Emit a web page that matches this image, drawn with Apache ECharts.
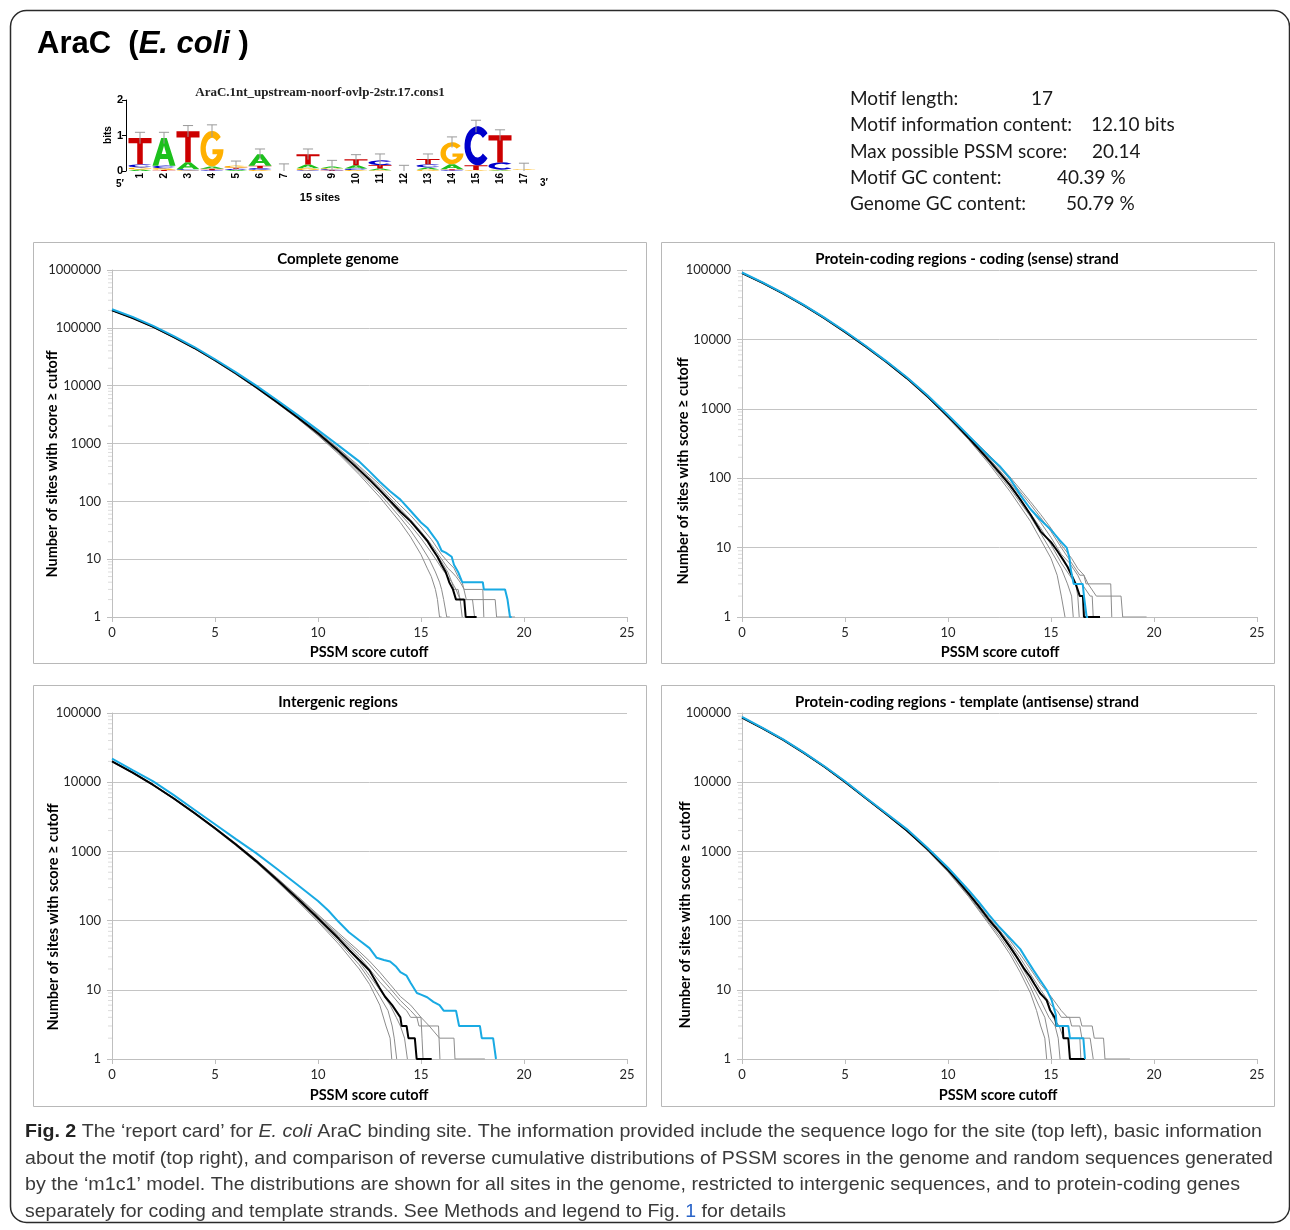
<!DOCTYPE html>
<html><head><meta charset="utf-8">
<script src="https://cdn.jsdelivr.net/npm/echarts@6/dist/echarts.min.js"></script>
<style>html,body{margin:0;padding:0;background:#fff;}#c{width:1290px;height:1230px;}</style>
</head><body><div id="c"></div>
<script>
// ---------------- DATA ----------------
// Sequence logo (bits per letter at each motif position)
const logoPositions = ['1','2','3','4','5','6','7','8','9','10','11','12','13','14','15','16','17'];
const logoA = [0.04,0.78,0.20,0.07,0.03,0.32,0.01,0.10,0.05,0.09,0.05,0.01,0.06,0.14,0.01,0.02,0.01];
const logoC = [0.09,0.07,0.03,0.02,0.03,0.05,0.01,0.02,0.03,0.04,0.13,0.01,0.09,0.02,1.10,0.20,0.01];
const logoG = [0.06,0.05,0.02,1.00,0.06,0.03,0.01,0.06,0.03,0.03,0.02,0.01,0.04,0.62,0.02,0.02,0.02];
const logoT = [0.74,0.03,0.87,0.04,0.03,0.07,0.01,0.29,0.02,0.17,0.10,0.01,0.15,0.03,0.13,0.77,0.01];
const logoErrTop = [1.09,1.09,1.28,1.30,0.28,0.62,0.20,0.62,0.30,0.46,0.48,0.16,0.48,0.96,1.43,1.16,0.22];

const xTicks = [0,5,10,15,20,25];

// Complete genome: [PSSM score cutoff, number of sites >= cutoff]
const cgBlue = [[0,210000],[1,155000],[2,108000],[3,72000],[4,46600],[5,28600],[6,17200],[7,10000],[8,5650],[9,3130],[10,1700],[11,920],[12,490],[12.5,330],[13,218],[13.5,150],[14,107],[14.5,68],[15,43],[15.3,35],[15.5,28],[15.8,20],[16,14],[16.2,13],[16.49,11],[16.6,8],[16.8,6],[17.0,4],[18.0,4],[18.05,3],[19.08,3],[19.2,2],[19.32,1],[19.4,1]];
const cgBlack = [[0,200000],[1,148000],[2,104000],[3,69300],[4,44800],[5,27500],[6,16400],[7,9440],[8,5250],[9,2850],[10,1500],[11,740],[12,350],[12.5,237],[13,156],[13.5,102],[14,66],[14.5,45],[15,28],[15.3,21],[15.5,16],[15.8,11],[16,8],[16.2,6],[16.37,4],[16.55,3],[16.7,2],[17.1,2],[17.17,1],[17.7,1]];
const cgRandom1 = [[0,199000],[1,146500],[2,102400],[3,67900],[4,43700],[5,26700],[6,15800],[7,9060],[8,5010],[9,2710],[10,1380],[11,660],[12,290],[13,118],[14,43],[14.5,24],[15,12],[15.3,7],[15.5,5],[15.7,3],[15.8,2],[15.9,1],[16.0,1]];
const cgRandom2 = [[0,199400],[1,147300],[2,103300],[3,68600],[4,44300],[5,27100],[6,16100],[7,9250],[8,5130],[9,2760],[10,1420],[11,690],[12,315],[13,135],[14,52],[14.5,31],[15,17],[15.4,10],[15.7,6],[15.9,4],[16.0,3],[16.1,2],[16.25,1],[16.4,1]];
const cgRandom3 = [[0,200500],[1,148500],[2,104300],[3,69500],[4,44900],[5,27600],[6,16450],[7,9470],[8,5270],[9,2870],[10,1510],[11,750],[12,345],[13,150],[14,60],[14.5,38],[15,23],[15.5,13],[15.8,9],[16.0,7],[16.3,5],[16.5,4],[16.6,3],[16.8,3],[16.9,2],[17.0,1]];
const cgRandom4 = [[0,201000],[1,149000],[2,104700],[3,69900],[4,45300],[5,27900],[6,16700],[7,9650],[8,5400],[9,2940],[10,1560],[11,790],[12,380],[13,175],[14,74],[14.5,48],[15,30],[15.5,18],[16,10],[16.3,7],[16.5,6],[16.7,5],[16.9,4],[17.1,3],[18.0,3],[18.05,1]];
const cgRandom5 = [[0,202000],[1,149500],[2,105300],[3,70300],[4,45600],[5,28100],[6,16900],[7,9800],[8,5500],[9,3010],[10,1600],[11,820],[12,405],[13,195],[14,85],[14.5,57],[15,36],[15.5,22],[16,12],[16.3,9],[16.6,7],[16.8,5],[17.0,4],[17.2,2],[18.6,2],[18.67,1],[19.56,1]];
const cgRandom6 = [[0,200000],[1,148000],[2,104000],[3,69300],[4,44800],[5,27500],[6,16400],[7,9440],[8,5250],[9,2860],[10,1490],[11,730],[12,340],[13,160],[14,68],[14.5,44],[15,27],[15.5,16],[16,9],[16.3,6],[16.5,4],[16.7,3],[16.9,2],[17.5,2],[17.6,1]];

// Protein-coding regions, coding (sense) strand
const csBlue = [[0,92000],[1,66300],[2,46500],[3,31400],[4,20600],[5,13100],[6,8100],[7,4870],[8,2840],[9,1570],[10,815],[10.5,580],[11,410],[11.5,290],[12,205],[12.5,150],[13,100],[13.5,58],[14,36],[14.5,25],[15,18],[15.4,13],[15.76,10],[15.9,7],[15.95,5],[16.1,3],[16.54,3],[16.6,2],[16.73,1],[16.8,1]];
const csBlack = [[0,90000],[1,65200],[2,45700],[3,30900],[4,20200],[5,12800],[6,7900],[7,4760],[8,2770],[9,1520],[10,780],[10.5,550],[11,383],[11.5,262],[12,179],[12.5,120],[13,80],[13.5,50],[14,30],[14.5,17],[15,12],[15.3,9],[15.6,6.6],[15.8,5.3],[16.0,4],[16.2,3],[16.4,2],[16.55,2],[16.6,1],[17.38,1]];
const csRandom1 = [[0,89200],[1,64500],[2,45100],[3,30400],[4,19800],[5,12500],[6,7700],[7,4630],[8,2690],[9,1460],[10,735],[11,360],[12,160],[13,65],[14,24],[14.5,13],[15,7],[15.3,4],[15.5,2],[15.68,1]];
const csRandom2 = [[0,89500],[1,64800],[2,45400],[3,30600],[4,20000],[5,12650],[6,7800],[7,4690],[8,2730],[9,1480],[10,750],[11,370],[12,170],[13,72],[14,28],[14.5,16],[15,9],[15.5,5],[15.8,3],[16.0,2],[16.08,1]];
const csRandom3 = [[0,90000],[1,65200],[2,45700],[3,30900],[4,20200],[5,12800],[6,7900],[7,4760],[8,2770],[9,1510],[10,775],[11,385],[12,180],[13,78],[14,31],[14.5,19],[15,11],[15.5,6],[15.9,4],[16.2,3],[16.3,2],[16.37,1]];
const csRandom4 = [[0,90300],[1,65500],[2,45900],[3,31100],[4,20350],[5,12900],[6,7970],[7,4810],[8,2800],[9,1540],[10,790],[11,395],[12,192],[13,88],[14,36],[14.5,23],[15,14],[15.5,8],[15.9,6],[16.3,4],[16.5,3],[16.9,2],[17.0,2],[17.05,1]];
const csRandom5 = [[0,90700],[1,65800],[2,46200],[3,31300],[4,20500],[5,13000],[6,8050],[7,4860],[8,2830],[9,1560],[10,800],[11,405],[12,205],[13,97],[14,42],[14.5,27],[15,17],[15.5,10],[16,6],[16.4,4],[16.6,4],[16.7,3],[17.9,3],[17.95,1]];
const csRandom6 = [[0,91000],[1,66100],[2,46400],[3,31500],[4,20650],[5,13100],[6,8120],[7,4900],[8,2860],[9,1580],[10,815],[11,415],[12,215],[13,105],[14,46],[14.5,30],[15,19],[15.5,11],[16,7],[16.3,5],[16.6,4],[16.8,3],[17.2,2],[18.4,2],[18.48,1],[19.64,1]];

// Intergenic regions
const igBlue = [[0,21900],[1,15000],[2,10300],[3,6500],[4,4000],[5,2470],[6,1520],[7,944],[8,560],[9,330],[10,192],[10.5,140],[11,96],[11.5,68],[12,52],[12.5,40],[12.85,29],[13.2,27],[13.5,25.6],[13.8,21.5],[14.0,18],[14.3,16],[14.5,12.5],[14.8,9],[15.0,8.5],[15.3,7.8],[15.6,6.7],[15.9,6],[16.1,5],[16.7,5],[16.85,3],[17.86,3],[17.95,2],[18.5,2],[18.64,1]];
const igBlack = [[0,20000],[1,13800],[2,9120],[3,5820],[4,3590],[5,2160],[6,1270],[7,724],[8,394],[9,209],[10,108],[11,55],[11.5,38],[12,27],[12.5,19],[13,10.5],[13.25,8],[13.6,6],[14.0,4],[14.06,3],[14.3,3],[14.39,2],[14.7,2],[14.79,1],[15.52,1]];
const igRandom1 = [[0,19700],[1,13550],[2,8930],[3,5680],[4,3490],[5,2090],[6,1220],[7,690],[8,370],[9,192],[10,96],[11,46],[12,20],[12.5,12],[13,6],[13.3,3],[13.5,2],[13.58,1]];
const igRandom2 = [[0,19800],[1,13650],[2,9010],[3,5740],[4,3540],[5,2120],[6,1240],[7,705],[8,380],[9,199],[10,101],[11,50],[12,23],[12.5,14],[13,8],[13.4,5],[13.6,3],[13.7,2],[13.82,1]];
const igRandom3 = [[0,19900],[1,13720],[2,9060],[3,5780],[4,3565],[5,2140],[6,1255],[7,715],[8,388],[9,204],[10,105],[11,53],[12,25.5],[12.5,16],[13,10],[13.5,6],[13.8,4],[14,3],[14.2,2],[14.34,1]];
const igRandom4 = [[0,20100],[1,13870],[2,9170],[3,5860],[4,3620],[5,2180],[6,1285],[7,735],[8,402],[9,215],[10,113],[11,59],[12,30],[12.5,20],[13,13],[13.5,9],[14,6],[14.3,5],[14.5,4],[15.0,4],[15.05,2],[15.1,1]];
const igRandom5 = [[0,20200],[1,13950],[2,9230],[3,5900],[4,3650],[5,2200],[6,1300],[7,745],[8,410],[9,221],[10,117],[11,62],[12,33],[12.5,23],[13,15.5],[13.5,10.5],[14,7],[14.5,5],[14.8,4],[14.9,3],[15.85,3],[15.92,1]];
const igRandom6 = [[0,20300],[1,14000],[2,9280],[3,5940],[4,3680],[5,2220],[6,1315],[7,755],[8,418],[9,227],[10,122],[11,66],[12,36],[12.5,26],[13,18],[13.5,12],[14,8],[14.5,6],[15,4],[15.4,3],[15.9,2],[16.6,2],[16.65,1],[18.1,1]];

// Protein-coding regions, template (antisense) strand
const tsBlue = [[0,88000],[1,61000],[2,41500],[3,27000],[4,17000],[5,10300],[6,6000],[7,3560],[8,2100],[9,1130],[10,580],[10.5,400],[11,275],[11.5,185],[12,120],[12.5,80],[13,56],[13.5,39],[13.8,28],[14.14,19.4],[14.47,13.8],[14.79,10],[15.03,7.1],[15.24,4.3],[15.27,3],[15.84,3],[15.92,2],[16.57,2],[16.65,1]];
const tsBlack = [[0,86000],[1,60000],[2,41000],[3,26500],[4,16700],[5,10100],[6,5900],[7,3480],[8,2000],[9,1080],[10,540],[10.5,370],[11,245],[11.5,160],[12,102],[12.5,68],[13,42],[13.33,30],[13.7,20],[13.98,15.5],[14.2,12],[14.47,8.9],[14.79,7.1],[14.95,5.1],[15.2,3.9],[15.27,3],[15.57,3],[15.6,2],[15.84,2],[15.92,1],[16.65,1]];
const tsRandom1 = [[0,85000],[1,59300],[2,40500],[3,26150],[4,16450],[5,9930],[6,5790],[7,3400],[8,1950],[9,1030],[10,505],[11,222],[12,88],[12.5,55],[13,33],[13.5,18],[14,9],[14.3,5],[14.5,3],[14.7,2],[14.79,1]];
const tsRandom2 = [[0,85400],[1,59600],[2,40700],[3,26300],[4,16550],[5,10000],[6,5830],[7,3430],[8,1970],[9,1050],[10,515],[11,230],[12,93],[12.5,60],[13,37],[13.5,21],[14,11],[14.4,6],[14.7,4],[14.9,2],[15.03,1]];
const tsRandom3 = [[0,85800],[1,59850],[2,40900],[3,26430],[4,16650],[5,10060],[6,5870],[7,3460],[8,1985],[9,1068],[10,528],[11,238],[12,98],[12.5,66],[13,41],[13.5,24],[14,13],[14.5,7],[14.9,4],[15.2,3],[15.35,2],[15.44,1]];
const tsRandom4 = [[0,86300],[1,60250],[2,41200],[3,26650],[4,16800],[5,10170],[6,5950],[7,3515],[8,2025],[9,1100],[10,555],[11,255],[12,110],[12.5,73],[13,47],[13.5,29],[14,17],[14.5,10],[15,6],[15.3,5],[15.5,4],[15.9,4],[16.0,3],[16.4,3],[16.5,2],[16.9,2],[17.05,1]];
const tsRandom5 = [[0,86700],[1,60500],[2,41400],[3,26800],[4,16900],[5,10250],[6,6000],[7,3550],[8,2050],[9,1120],[10,570],[11,268],[12,118],[12.5,80],[13,52],[13.5,33],[14,20],[14.5,12],[15,8],[15.5,5],[15.8,4],[16.4,4],[16.5,3],[17.0,3],[17.1,2],[17.55,2],[17.62,1],[18.83,1]];
const tsRandom6 = [[0,86000],[1,60000],[2,41000],[3,26500],[4,16700],[5,10100],[6,5900],[7,3480],[8,2000],[9,1075],[10,532],[11,244],[12,104],[12.5,69],[13,44],[13.5,26],[14,15],[14.5,9],[14.9,6],[15.1,4],[15.4,3],[15.6,2],[16.4,2],[16.45,1]];

// Motif info (text)
const infoLabels = ['Motif length:','Motif information content:','Max possible PSSM score:','Motif GC content:','Genome GC content:'];
const infoValues = ['17','12.10 bits','20.14','40.39 %','50.79 %'];

// ---------------- LAYOUT ----------------
const FAM = 'Lato, "Open Sans", sans-serif';
const panels = [
  {title:'Complete genome', left:112, top:270, h:347, ymax:1e6, box:[33,242,613,421], tx:338, ty:259, ylx:52, yly:464, xlx:369, xly:652,
   blue:cgBlue, black:cgBlack, grays:[cgRandom1,cgRandom2,cgRandom3,cgRandom4,cgRandom5,cgRandom6]},
  {title:'Protein-coding regions - coding (sense) strand', left:742, top:270, h:347, ymax:1e5, box:[661,242,613,421], tx:967, ty:259, ylx:683, yly:471, xlx:1000, xly:652,
   blue:csBlue, black:csBlack, grays:[csRandom1,csRandom2,csRandom3,csRandom4,csRandom5,csRandom6]},
  {title:'Intergenic regions', left:112, top:713, h:346, ymax:1e5, box:[33,685,613,421], tx:338, ty:702, ylx:53, yly:917, xlx:369, xly:1095,
   blue:igBlue, black:igBlack, grays:[igRandom1,igRandom2,igRandom3,igRandom4,igRandom5,igRandom6]},
  {title:'Protein-coding regions - template (antisense) strand', left:742, top:713, h:346, ymax:1e5, box:[661,685,613,421], tx:967, ty:702, ylx:685, yly:915, xlx:998, xly:1095,
   blue:tsBlue, black:tsBlack, grays:[tsRandom1,tsRandom2,tsRandom3,tsRandom4,tsRandom5,tsRandom6]}
];

const GLYPH = {
  T:'M0,0 L100,0 L100,20 L62,20 L62,100 L38,100 L38,20 L0,20 Z',
  A:'M38,0 L62,0 L100,100 L75,100 L67,76 L33,76 L25,100 L0,100 Z M50,28 L40,58 L60,58 Z',
  C:'M88,18 A50,50 0 1 0 88,82 L70,70 A27,30 0 1 1 70,30 Z',
  G:'M88,18 A50,50 0 1 0 100,52 L52,52 L52,66 L73,66 A27,30 0 1 1 70,30 Z'
};
const LCOL = {A:'#1cc01c', C:'#0000cc', G:'#ffb000', T:'#cc0000'};

const grids=[], xAxes=[], yAxes=[], series=[], graphics=[];

// ---- logo grid (index 0)
grids.push({left:128, top:100, width:408, height:71});
xAxes.push({type:'category', gridIndex:0, data:logoPositions, boundaryGap:true,
  axisLine:{show:false}, axisTick:{show:false},
  axisLabel:{rotate:90, fontSize:10, fontWeight:'bold', color:'#000', fontFamily:'"Liberation Sans", Arial', margin:2}});
yAxes.push({type:'value', gridIndex:0, min:0, max:2, interval:1, offset:2,
  axisLine:{show:true, lineStyle:{color:'#000', width:1}}, axisTick:{show:true, length:4, lineStyle:{color:'#000'}},
  axisLabel:{fontSize:11, fontWeight:'bold', color:'#000', fontFamily:'"Liberation Sans", Arial', margin:3}, splitLine:{show:false}});
series.push({type:'custom', xAxisIndex:0, yAxisIndex:0, silent:true, animation:false,
  data: logoPositions.map((p,i)=>[i, logoA[i], logoC[i], logoG[i], logoT[i], logoErrTop[i]]),
  renderItem(params, api){
    const i = api.value(0);
    const hs = [['A',api.value(1)],['C',api.value(2)],['G',api.value(3)],['T',api.value(4)]].sort((a,b)=>a[1]-b[1]);
    const bw = api.size([1,0])[0]*0.96;
    let cum = 0; const ch = [];
    for (const [l,h] of hs){
      const p0 = api.coord([i,cum]), p1 = api.coord([i,cum+h]);
      cum += h;
      const hh = p0[1]-p1[1];
      if (hh < 0.4) continue;
      ch.push({type:'path', shape:{pathData:GLYPH[l], x:p0[0]-bw/2, y:p1[1], width:bw, height:hh, layout:'cover'}, style:{fill:LCOL[l]}});
    }
    const et = api.value(5);
    const lo = Math.max(0, 2*cum - et);
    const a = api.coord([i, et]), b = api.coord([i, lo]);
    const cw = bw*0.22;
    ch.push({type:'line', shape:{x1:a[0],y1:a[1],x2:b[0],y2:b[1]}, style:{stroke:'#9a9a9a', lineWidth:1}});
    ch.push({type:'line', shape:{x1:a[0]-cw,y1:a[1],x2:a[0]+cw,y2:a[1]}, style:{stroke:'#9a9a9a', lineWidth:1}});
    return {type:'group', children:ch};
  }});

// ---- four distribution panels
const minorSteps = [2,3,4,5,6,7,8,9];
panels.forEach((P, k)=>{
  const gi = k+1;
  grids.push({left:P.left, top:P.top, width:515, height:P.h});
  xAxes.push({type:'value', gridIndex:gi, min:0, max:25, interval:5,
    axisLine:{show:true, onZero:false, lineStyle:{color:'#bfbfbf', width:1}},
    axisTick:{show:true, length:5, lineStyle:{color:'#bfbfbf'}},
    axisLabel:{fontSize:13, color:'#262626', fontFamily:FAM, margin:9, customValues:xTicks},
    splitLine:{show:false}});
  yAxes.push({type:'log', logBase:10, gridIndex:gi, min:1, max:P.ymax, splitNumber:10,
    axisLine:{show:true, lineStyle:{color:'#bfbfbf', width:1}},
    axisTick:{show:true, length:5, lineStyle:{color:'#bfbfbf'}},
    axisLabel:{fontSize:13, color:'#262626', fontFamily:FAM, margin:11, formatter:v=>String(Math.round(v))},
    splitLine:{show:true, lineStyle:{color:'#c4c4c4', width:1}}});
  // minor log ticks on the y axis
  const decades = Math.round(Math.log10(P.ymax));
  const minors = [];
  for (let d=0; d<decades; d++) for (const m of minorSteps) minors.push(m*Math.pow(10,d));
  series.push({type:'custom', xAxisIndex:gi, yAxisIndex:gi, silent:true, animation:false, z:1,
    data: minors.map(v=>[0,v]),
    renderItem(params, api){
      const p = api.coord([0, api.value(1)]);
      return {type:'line', shape:{x1:p[0]-4, y1:p[1], x2:p[0], y2:p[1]}, style:{stroke:'#dcdcdc', lineWidth:1}};
    }});
  P.grays.forEach(g=>series.push({type:'line', xAxisIndex:gi, yAxisIndex:gi, data:g, showSymbol:false, symbol:'none',
    silent:true, animation:false, z:2, lineStyle:{color:'#8c8c8c', width:1}}));
  series.push({type:'line', xAxisIndex:gi, yAxisIndex:gi, data:P.black, showSymbol:false, symbol:'none',
    silent:true, animation:false, z:3, lineStyle:{color:'#000', width:2}});
  series.push({type:'line', xAxisIndex:gi, yAxisIndex:gi, data:P.blue, showSymbol:false, symbol:'none',
    silent:true, animation:false, z:4, lineStyle:{color:'#19aae3', width:2}});
  // frame, titles
  graphics.push({type:'rect', shape:{x:P.box[0]+0.5, y:P.box[1]+0.5, width:P.box[2], height:P.box[3]}, style:{fill:'none', stroke:'#b8b8b8', lineWidth:1}, silent:true});
  graphics.push({type:'text', x:P.tx, y:P.ty, style:{text:P.title, font:'bold 15px '+FAM, fill:'#000', align:'center', verticalAlign:'middle'}});
  graphics.push({type:'text', x:P.xlx, y:P.xly, style:{text:'PSSM score cutoff', font:'bold 14.5px '+FAM, fill:'#000', align:'center', verticalAlign:'middle'}});
  graphics.push({type:'text', x:P.ylx, y:P.yly, rotation:Math.PI/2, style:{text:'Number of sites with score \u2265 cutoff', font:'bold 14.5px '+FAM, fill:'#000', align:'center', verticalAlign:'middle'}});
});

// ---- outer frame and texts
graphics.push({type:'rect', shape:{x:10.5, y:10.5, width:1279, height:1212, r:16}, style:{fill:'none', stroke:'#2a2a2a', lineWidth:1.5}, silent:true});
graphics.push({type:'text', x:37, y:44, style:{text:'{a|AraC  (}{b|E. coli}{a| )}', verticalAlign:'middle',
  rich:{a:{fontFamily:'"Liberation Sans", Arial', fontWeight:'bold', fontSize:31, fill:'#000'},
        b:{fontFamily:'"Liberation Sans", Arial', fontWeight:'bold', fontStyle:'italic', fontSize:31, fill:'#000'}}}});
// logo annotations
graphics.push({type:'text', x:320, y:93, style:{text:'AraC.1nt_upstream-noorf-ovlp-2str.17.cons1', font:'bold 13px "Liberation Serif", "Times New Roman", serif', fill:'#222', align:'center', verticalAlign:'middle'}});
graphics.push({type:'text', x:108, y:135, rotation:Math.PI/2, style:{text:'bits', font:'bold 10px "Liberation Sans", Arial', fill:'#000', align:'center', verticalAlign:'middle'}});
graphics.push({type:'text', x:120, y:184, style:{text:'5\u2032', font:'bold 10px "Liberation Sans", Arial', fill:'#000', align:'center', verticalAlign:'middle'}});
graphics.push({type:'text', x:544, y:183, style:{text:'3\u2032', font:'bold 10px "Liberation Sans", Arial', fill:'#000', align:'center', verticalAlign:'middle'}});
graphics.push({type:'text', x:320, y:198, style:{text:'15 sites', font:'bold 11px "Liberation Sans", Arial', fill:'#000', align:'center', verticalAlign:'middle'}});
// motif info
const infoValueX = [1031,1091,1092,1057,1066];
infoLabels.forEach((t,i)=>{
  const y = 99 + i*26.3;
  graphics.push({type:'text', x:850, y, style:{text:t, font:'19px '+FAM, fill:'#1a1a1a', verticalAlign:'middle'}});
  graphics.push({type:'text', x:infoValueX[i], y, style:{text:infoValues[i], font:'19px '+FAM, fill:'#1a1a1a', verticalAlign:'middle'}});
});
// caption
const CFAM = '"Liberation Sans", Arial, sans-serif';
const CSIZE = 19;
const captionLines = [
  [['b','Fig. 2'],['n',' The \u2018report card\u2019 for '],['i','E. coli'],['n',' AraC binding site. The information provided include the sequence logo for the site (top left), basic information']],
  [['n','about the motif (top right), and comparison of reverse cumulative distributions of PSSM scores in the genome and random sequences generated']],
  [['n','by the \u2018m1c1\u2019 model. The distributions are shown for all sites in the genome, restricted to intergenic sequences, and to protein-coding genes']],
  [['n','separately for coding and template strands. See Methods and legend to Fig. '],['l','1'],['n',' for details']]
];
const captionRight = [1262,1273,1240,786];
const mctx = document.createElement('canvas').getContext('2d');
function fontOf(st){ return (st==='i'?'italic ':'')+(st==='b'?'bold ':'')+CSIZE+'px '+CFAM; }
captionLines.forEach((segs,i)=>{
  let w = 0;
  segs.forEach(([st,t])=>{ mctx.font = fontOf(st); w += mctx.measureText(t).width; });
  const sx = (captionRight[i]-25)/w;
  const text = segs.map(([st,t])=>'{'+st+'|'+t+'}').join('');
  graphics.push({type:'text', x:25, y:1132+i*26.6, scaleX:sx, style:{text, verticalAlign:'middle',
    rich:{n:{fontFamily:CFAM, fontSize:CSIZE, fill:'#3a3a3a'},
          b:{fontFamily:CFAM, fontSize:CSIZE, fontWeight:'bold', fill:'#222'},
          i:{fontFamily:CFAM, fontSize:CSIZE, fontStyle:'italic', fill:'#3a3a3a'},
          l:{fontFamily:CFAM, fontSize:CSIZE, fill:'#2a64c8'}}}});
});

const chart = echarts.init(document.getElementById('c'), null, {renderer:'canvas'});
chart.setOption({animation:false, backgroundColor:'#fff', grid:grids, xAxis:xAxes, yAxis:yAxes, series, graphic:graphics});
</script></body></html>
